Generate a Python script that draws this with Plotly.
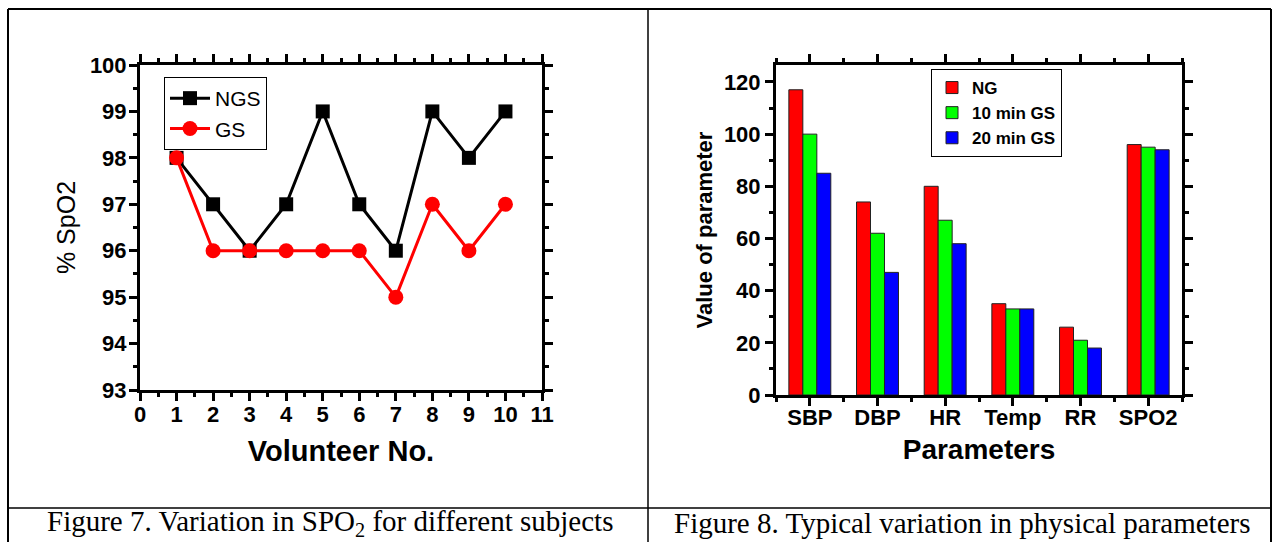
import plotly.graph_objects as go

# ---- data ----
volunteers = [1, 2, 3, 4, 5, 6, 7, 8, 9, 10]
ngs_spo2 = [98, 97, 96, 97, 99, 97, 96, 99, 98, 99]
gs_spo2 = [98, 96, 96, 96, 96, 96, 95, 97, 96, 97]

parameters = ["SBP", "DBP", "HR", "Temp", "RR", "SPO2"]
ng_vals = [117, 74, 80, 35, 26, 96]
gs10_vals = [100, 62, 67, 33, 21, 95]
gs20_vals = [85, 47, 58, 33, 18, 94]

W, H = 1273, 542
def px(x):
    return x / W
def py(y):
    return 1 - y / H

FONT = "Liberation Sans, Arial, sans-serif"
SERIF = "Liberation Serif, Times New Roman, serif"

fig = go.Figure()

# ---- left chart ----
fig.add_trace(go.Scatter(
    x=volunteers, y=ngs_spo2, name="NGS", mode="lines+markers",
    line=dict(color="black", width=3),
    marker=dict(symbol="square", size=14, color="black"),
    xaxis="x", yaxis="y", legend="legend"))
fig.add_trace(go.Scatter(
    x=volunteers, y=gs_spo2, name="GS", mode="lines+markers",
    line=dict(color="#ff0000", width=3),
    marker=dict(symbol="circle", size=15, color="#ff0000"),
    xaxis="x", yaxis="y", legend="legend"))

# ---- right chart ----
for name, vals, col in [("NG", ng_vals, "#ff0000"),
                        ("10 min GS", gs10_vals, "#00ff00"),
                        ("20 min GS", gs20_vals, "#0000ff")]:
    fig.add_trace(go.Bar(
        x=parameters, y=vals, name=name,
        marker=dict(color=col, line=dict(color="#222222", width=1)),
        xaxis="x2", yaxis="y2", legend="legend2"))

axis_common = dict(
    showline=True, linecolor="black", linewidth=3, mirror="allticks",
    ticks="outside", ticklen=8, tickwidth=3, tickcolor="black",
    showgrid=False, zeroline=False, automargin=False,
    tickfont=dict(family=FONT, size=22, color="black", weight="bold"),
)
minor_common = dict(ticks="outside", ticklen=4, tickwidth=3, tickcolor="black")

fig.update_layout(
    width=W, height=H,
    margin=dict(l=0, r=0, t=0, b=0, pad=0, autoexpand=False),
    paper_bgcolor="white", plot_bgcolor="white",
    barmode="group", bargap=0.38, bargroupgap=0,
    xaxis=dict(
        domain=[px(140), px(542)], anchor="y", range=[0, 11],
        tickmode="array", tickvals=list(range(0, 12)),
        ticklabelstandoff=-5,
        minor=dict(dtick=0.5, **minor_common),
        title=dict(text="Volunteer No.", standoff=15,
                   font=dict(family=FONT, size=29, color="black", weight="bold")),
        **axis_common),
    yaxis=dict(
        domain=[py(390), py(65)], anchor="x", range=[93, 100],
        tickmode="array", tickvals=list(range(93, 101)),
        ticklabelstandoff=-2,
        minor=dict(dtick=0.5, **minor_common),
        title=dict(text="% SpO2", standoff=8,
                   font=dict(family=FONT, size=25, color="black")),
        **axis_common),
    xaxis2=dict(
        domain=[px(776), px(1182)], anchor="y2", range=[-0.5, 5.5],
        ticklabelstandoff=-7,
        minor=dict(tickvals=[-0.5, 0.5, 1.5, 2.5, 3.5, 4.5, 5.5], **minor_common),
        title=dict(text="Parameters", standoff=10,
                   font=dict(family=FONT, size=28, color="black", weight="bold")),
        **axis_common),
    yaxis2=dict(
        domain=[py(395), py(65)], anchor="x2", range=[0, 126.5],
        tickmode="array", tickvals=[0, 20, 40, 60, 80, 100, 120],
        minor=dict(dtick=10, **minor_common),
        title=dict(text="Value of parameter", standoff=6,
                   font=dict(family=FONT, size=22, color="black", weight="bold")),
        **axis_common),
    legend=dict(
        x=px(164), y=py(77), xanchor="left", yanchor="top",
        bordercolor="black", borderwidth=1, bgcolor="white",
        font=dict(family=FONT, size=21, color="black"),
        tracegroupgap=0, itemwidth=40),
    legend2=dict(
        x=px(931), y=py(69), xanchor="left", yanchor="top",
        bordercolor="black", borderwidth=1, bgcolor="white",
        font=dict(family=FONT, size=17, color="black", weight="bold"),
        tracegroupgap=0, traceorder="normal"),
    showlegend=True,
)

# ---- table borders ----
line_specs = [
    (8, 9, 1271, 9, 2),      # top
    (8, 9, 8, 542, 2),       # left
    (1271, 9, 1271, 542, 2), # right
    (648, 9, 648, 542, 1.5), # divider
    (8, 508, 1271, 508, 1.5) # caption separator
]
for x0, y0, x1, y1, w in line_specs:
    fig.add_shape(type="line", xref="paper", yref="paper",
                  x0=px(x0), y0=py(y0), x1=px(x1), y1=py(y1),
                  line=dict(color="black", width=w))

# ---- captions ----
fig.add_annotation(xref="paper", yref="paper", x=px(330), y=py(523),
                   text="Figure 7. Variation in SPO<sub>2</sub> for different subjects",
                   showarrow=False, xanchor="center", yanchor="middle",
                   font=dict(family=SERIF, size=29, color="black"))
fig.add_annotation(xref="paper", yref="paper", x=px(962), y=py(523),
                   text="Figure 8. Typical variation in physical parameters",
                   showarrow=False, xanchor="center", yanchor="middle",
                   font=dict(family=SERIF, size=29, color="black"))

fig.write_html("out.html")
